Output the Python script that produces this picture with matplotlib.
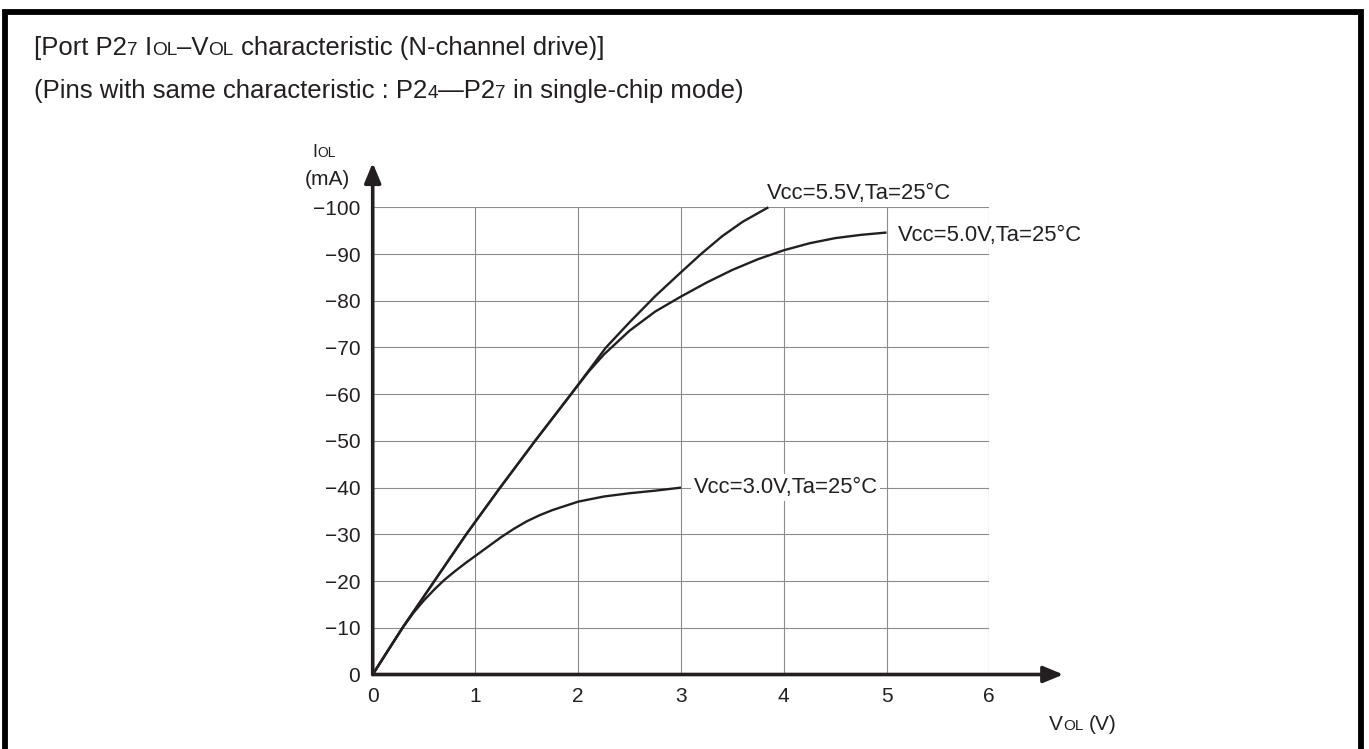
import matplotlib
matplotlib.use("Agg")
import matplotlib.pyplot as plt
from matplotlib.lines import Line2D

plt.rcParams['font.family'] = ['Liberation Sans', 'DejaVu Sans']

# ---- data: I_OL (mA) versus V_OL (V) ----
v_55 = [0, 0.29, 0.6, 0.91, 1.24, 1.58, 1.93, 2.1, 2.27, 2.5, 2.75, 3.0, 3.2, 3.4, 3.6, 3.85]
i_55 = [0, -10, -20, -30, -40, -50, -60, -65, -70, -75.4, -81.0, -86.1, -90.1, -93.8, -96.9, -100]

v_50 = [0, 0.29, 0.6, 0.91, 1.24, 1.58, 1.93, 2.1, 2.25, 2.5, 2.75, 3.0, 3.25, 3.5, 3.75, 4.0,
        4.25, 4.5, 4.75, 5.0]
i_50 = [0, -10, -20, -30, -40, -50, -60, -64.8, -68.5, -73.6, -77.7, -80.9, -83.9, -86.6, -88.9, -90.8,
        -92.3, -93.4, -94.1, -94.6]

v_30 = [0, 0.15, 0.3, 0.4, 0.5, 0.6, 0.7, 0.8, 0.9, 1.0, 1.125, 1.25, 1.375, 1.5, 1.625, 1.75,
        2.0, 2.25, 2.5, 2.75, 3.0]
i_30 = [0, -5.2, -10.3, -13.3, -15.9, -18.2, -20.3, -22.1, -23.8, -25.4, -27.4, -29.4, -31.2, -32.8,
        -34.1, -35.2, -37.0, -38.1, -38.8, -39.35, -40]

curve_labels = ["Vcc=5.5V,Ta=25°C", "Vcc=5.0V,Ta=25°C", "Vcc=3.0V,Ta=25°C"]
x_ticks = [0, 1, 2, 3, 4, 5, 6]
y_ticks = [0, -10, -20, -30, -40, -50, -60, -70, -80, -90, -100]

W, H = 1369, 749
INK = '#231f20'
FS = 15
LFS = 15.8
TFS = 18.5
SMALL = 11

fig = plt.figure(figsize=(W / 100, H / 100), dpi=100)
ax = fig.add_axes([372.7 / W, (H - 674.5) / H, (989.3 - 372.7) / W, (674.5 - 207.3) / H])
ax.set_xlim(0, 6)
ax.set_ylim(0, -100)

ax.set_xticks(x_ticks)
ax.set_yticks(y_ticks)
ax.set_xticklabels([f"{v}" for v in x_ticks])
ax.set_yticklabels(["0" if v == 0 else f"\u2212{abs(v)}" for v in y_ticks])
ax.tick_params(length=0, labelsize=FS, colors=INK)
ax.tick_params(axis='x', pad=9)
ax.tick_params(axis='y', pad=9)
ax.grid(True, color='#8c8c8c', lw=0.8)
ax.set_axisbelow(True)
for s in ax.spines.values():
    s.set_visible(False)

# axes with arrow heads
arrow = dict(arrowstyle='-|>,head_length=0.6,head_width=0.25', lw=2.6, color=INK,
             mutation_scale=20, shrinkA=0, shrinkB=0)
ax.annotate('', xy=(6.72, 0), xytext=(0, 0), arrowprops=arrow, annotation_clip=False)
ax.annotate('', xy=(0, -109.5), xytext=(0, 0), arrowprops=arrow, annotation_clip=False)

# characteristic curves
for vx, iy in [(v_55, i_55), (v_50, i_50), (v_30, i_30)]:
    ax.plot(vx, iy, color=INK, lw=1.7, solid_capstyle='butt', solid_joinstyle='round',
            clip_on=False, zorder=3)

ax.annotate(curve_labels[0], xy=(v_55[-1], i_55[-1]), xytext=(-1, 6), textcoords='offset points',
            ha='left', va='baseline', fontsize=LFS, color=INK, annotation_clip=False)
ax.annotate(curve_labels[1], xy=(v_50[-1], i_50[-1]), xytext=(8, -2), textcoords='offset points',
            ha='left', va='center', fontsize=LFS, color=INK, annotation_clip=False)
ax.annotate(curve_labels[2], xy=(v_30[-1], i_30[-1]), xytext=(9, 0), textcoords='offset points',
            ha='left', va='center', fontsize=LFS, color=INK, annotation_clip=False,
            bbox=dict(facecolor='white', edgecolor='none', pad=2), zorder=4)

# mixed-size text runs (subscript-style small capitals on the same baseline)
renderer = fig.canvas.get_renderer()


def space_width(size):
    a = fig.text(0, 0, "a a", fontsize=size)
    b = fig.text(0, 0, "aa", fontsize=size)
    w = a.get_window_extent(renderer).width - b.get_window_extent(renderer).width
    a.remove()
    b.remove()
    return w


def rich(x, y, pieces):
    for s, size in pieces:
        sw = space_width(size)
        lead = len(s) - len(s.lstrip(' '))
        trail = len(s) - len(s.rstrip(' '))
        x += lead * sw
        core = s.strip(' ')
        t = fig.text(x / W, 1 - y / H, core, fontsize=size, ha='left', va='baseline', color=INK)
        x += t.get_window_extent(renderer).width + trail * sw


TS = TFS * 0.74
rich(34, 55, [("[Port P2", TFS), ("7", TS), (" I", TFS), ("OL", TS), ("\u2013V", TFS),
              ("OL", TS), (" characteristic (N-channel drive)]", TFS)])
rich(34, 98, [("(Pins with same characteristic : P2", TFS), ("4", TS), ("\u2014P2", TFS),
              ("7", TS), (" in single-chip mode)", TFS)])

rich(312, 157, [("I", 13), ("OL", 10)])
rich(305, 185, [("(mA)", FS)])
rich(1049, 730, [("V", FS), ("OL", SMALL), (" (V)", FS)])

# outer frame (open at the bottom)
fig.add_artist(Line2D([4.5 / W, 4.5 / W, 1361 / W, 1361 / W],
                      [0, 1 - 12.2 / H, 1 - 12.2 / H, 0],
                      color='black', lw=4.2, solid_joinstyle='miter'))

fig.savefig("out.png", dpi=100)
